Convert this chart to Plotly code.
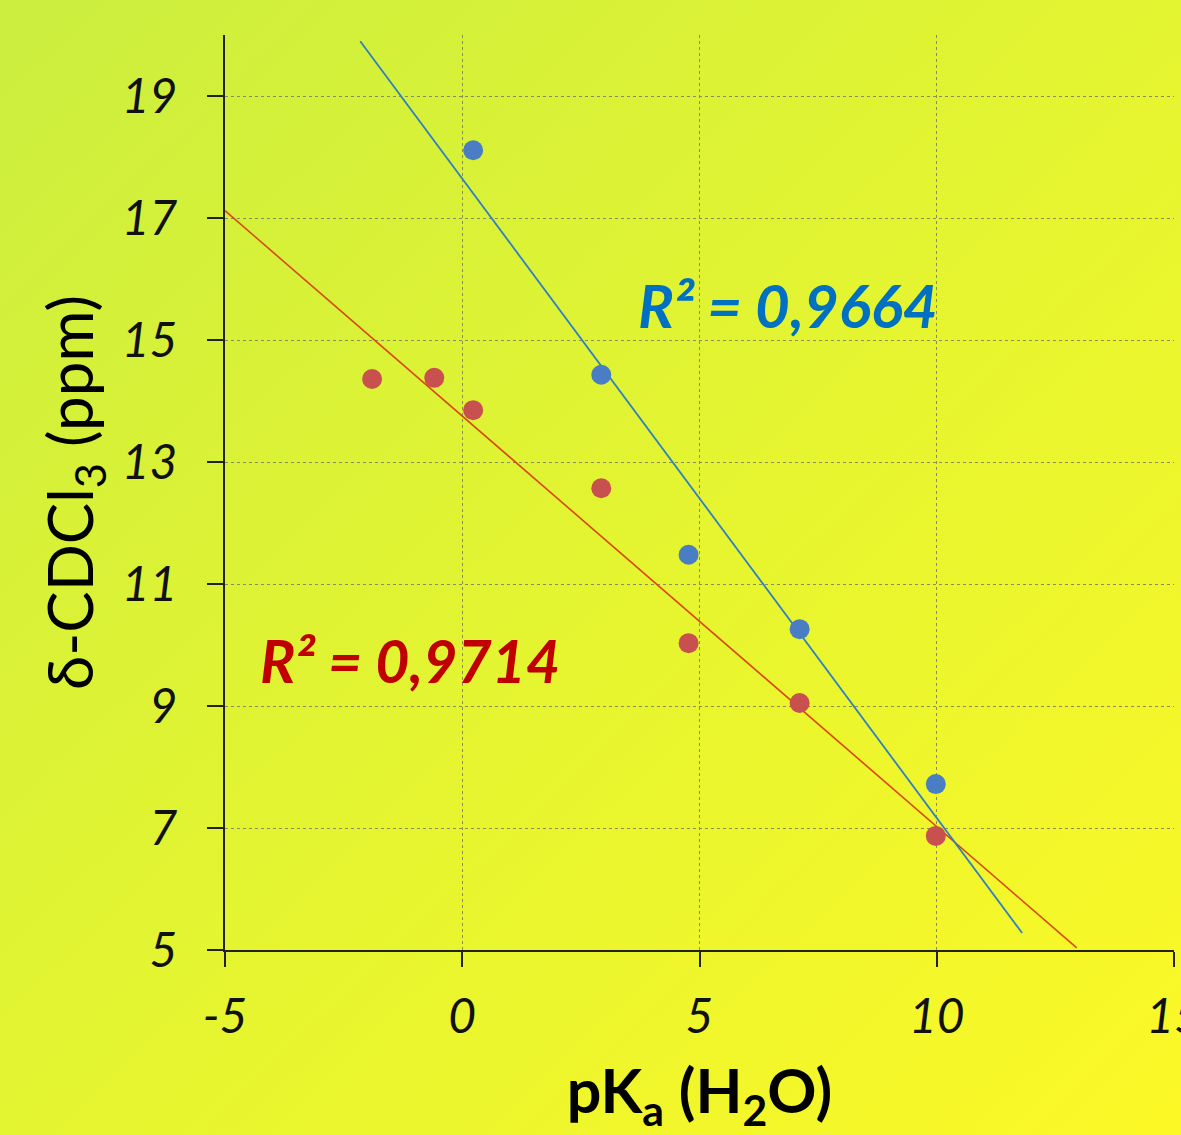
import base64
import numpy as np
import plotly.graph_objects as go

# Data
blue_x = [0.23, 2.93, 4.77, 7.11, 9.98]
blue_y = [18.11, 14.43, 11.48, 10.26, 7.72]
red_x = [-1.9, -0.59, 0.23, 2.93, 4.77, 7.11, 9.98]
red_y = [14.36, 14.38, 13.85, 12.57, 10.03, 9.05, 6.87]
blue_trend_x = [-2.15, 11.8]
red_trend_x = [-5.0, 12.95]
x_ticks = [-5, 0, 5, 10, 15]
x_tick_text = ["-5", "0", "5", "10", "15"]
y_ticks = [5, 7, 9, 11, 13, 15, 17, 19]
blue_label = "R² = 0,9664"
red_label = "R² = 0,9714"

W, H = 1181, 1135
ML, MR, MT, MB = 225, 7, 35, 185
PW, PH = W - ML - MR, H - MT - MB

FONT = "Lato"

bm, bb = np.polyfit(blue_x, blue_y, 1)
rm, rb = np.polyfit(red_x, red_y, 1)

svg = (
    f'<svg xmlns="http://www.w3.org/2000/svg" width="{W}" height="{H}">'
    '<defs><linearGradient id="g" x1="0" y1="0" x2="1" y2="1">'
    '<stop offset="0" stop-color="#cbee3f"/>'
    '<stop offset="0.55" stop-color="#e6f52f"/>'
    '<stop offset="1" stop-color="#fcf826"/>'
    '</linearGradient></defs>'
    f'<rect width="{W}" height="{H}" fill="url(#g)"/></svg>'
)
src = "data:image/svg+xml;base64," + base64.b64encode(svg.encode()).decode()

fig = go.Figure()

bx = np.array(blue_trend_x)
rx = np.array(red_trend_x)
fig.add_trace(go.Scatter(x=rx, y=rm * rx + rb, mode="lines",
                         line=dict(color="#d9480f", width=1.6), showlegend=False, hoverinfo="skip"))
fig.add_trace(go.Scatter(x=bx, y=bm * bx + bb, mode="lines",
                         line=dict(color="#2f7fc4", width=1.8), showlegend=False, hoverinfo="skip"))
fig.add_trace(go.Scatter(x=red_x, y=red_y, mode="markers",
                         marker=dict(size=20, color="#c8504f"), showlegend=False))
fig.add_trace(go.Scatter(x=blue_x, y=blue_y, mode="markers",
                         marker=dict(size=20, color="#4a7ec4"), showlegend=False))

fig.add_annotation(x=6.86, y=15.57, xref="x", yref="y", text=f"<b><i>{blue_label}</i></b>",
                   showarrow=False, font=dict(family=FONT, size=60, color="#0070c0"))
fig.add_annotation(x=-1.1, y=9.75, xref="x", yref="y", text=f"<b><i>{red_label}</i></b>",
                   showarrow=False, font=dict(family=FONT, size=59, color="#c00000"))

fig.add_layout_image(dict(source=src, xref="paper", yref="paper",
                          x=-ML / PW, y=1 + MT / PH, sizex=W / PW, sizey=H / PH,
                          xanchor="left", yanchor="top", sizing="stretch", layer="below"))

grid = dict(showgrid=True, gridcolor="#8a8a6a", gridwidth=1, griddash="dot")
fig.update_xaxes(range=[-5, 15], tickvals=x_ticks, ticktext=x_tick_text, ticks="outside",
                 ticklen=15, tickwidth=2, ticklabelstandoff=8, ticklabeloverflow="allow",
                 automargin=False,
                 tickcolor="#222", showline=True, linecolor="#222", linewidth=2, zeroline=False,
                 tickfont=dict(family=FONT, size=48, color="#111", style="italic"),
                 title=dict(text="<b>pK<sub>a</sub> (H<sub>2</sub>O)</b>", standoff=54,
                            font=dict(family=FONT, size=61, color="#000")),
                 **grid)
fig.update_yaxes(range=[5, 20], tickvals=y_ticks, ticks="outside", ticklen=16, tickwidth=2,
                 ticklabelstandoff=20, automargin=False,
                 tickcolor="#222", showline=True, linecolor="#222", linewidth=2, zeroline=False,
                 tickfont=dict(family=FONT, size=48, color="#111", style="italic"),
                 title=dict(text="δ-CDCl<sub>3</sub> (ppm)", standoff=8,
                            font=dict(family=FONT, size=62, color="#000")),
                 **grid)

fig.update_layout(width=W, height=H, margin=dict(l=ML, r=MR, t=MT, b=MB),
                  paper_bgcolor="#e6f52f", plot_bgcolor="rgba(0,0,0,0)")

fig.write_html("out.html", config={"displayModeBar": False},
               post_script="document.body.style.margin='0';document.body.style.overflow='hidden';")
